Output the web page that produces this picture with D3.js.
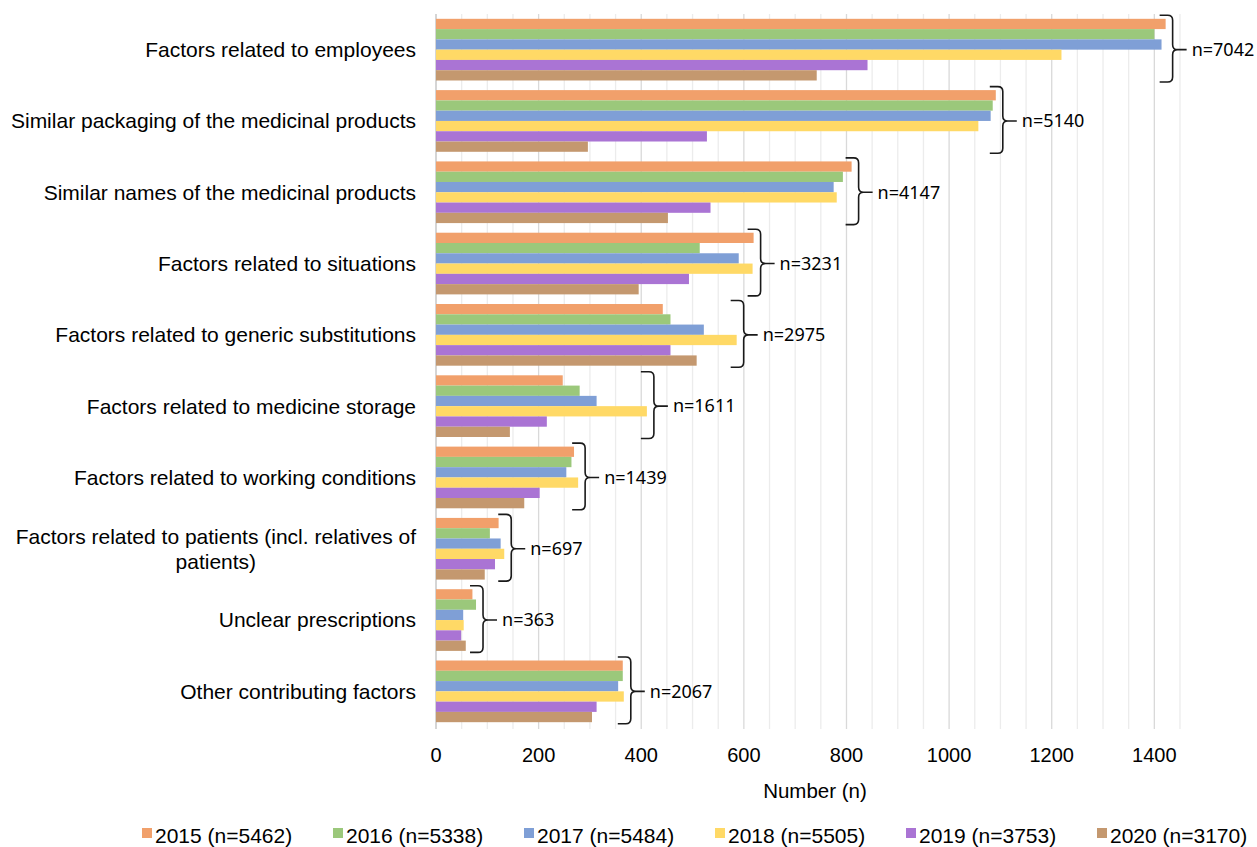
<!DOCTYPE html>
<html>
<head>
<meta charset="utf-8">
<script src="https://cdn.jsdelivr.net/npm/d3@7"></script>
<style>
  body { margin: 0; background: #fff; }
  svg text { font-family: "Liberation Sans", Arial, sans-serif; fill: #000; }
  .n-label { font-family: "Noto Sans", "Open Sans", sans-serif; }
</style>
</head>
<body>
<svg id="chart"></svg>
<script>
// categories (top to bottom)
const categories = [
    'Factors related to employees',
    'Similar packaging of the medicinal products',
    'Similar names of the medicinal products',
    'Factors related to situations',
    'Factors related to generic substitutions',
    'Factors related to medicine storage',
    'Factors related to working conditions',
    'Factors related to patients (incl. relatives of patients)',
    'Unclear prescriptions',
    'Other contributing factors'
];
const totals = [7042, 5140, 4147, 3231, 2975, 1611, 1439, 697, 363, 2067];

const seriesNames = ['2015 (n=5462)', '2016 (n=5338)', '2017 (n=5484)', '2018 (n=5505)', '2019 (n=3753)', '2020 (n=3170)'];
const seriesColors = ['#f1a06b', '#9bc87b', '#7f9fd6', '#ffd966', '#aa74d4', '#c4986f'];

const v2015 = [1422, 1091, 810, 619, 442, 247, 269, 122, 71, 364];
const v2016 = [1400, 1085, 793, 514, 457, 280, 264, 105, 78, 364];
const v2017 = [1414, 1081, 775, 590, 522, 313, 254, 126, 53, 355];
const v2018 = [1219, 1057, 781, 617, 586, 411, 277, 133, 54, 366];
const v2019 = [841, 528, 535, 493, 457, 216, 202, 115, 49, 313];
const v2020 = [742, 296, 452, 395, 508, 144, 172, 95, 58, 304];
const seriesValues = [v2015, v2016, v2017, v2018, v2019, v2020];

const xTicks = [0, 200, 400, 600, 800, 1000, 1200, 1400];

const width = 1257, height = 847;
const margin = { top: 14, right: 77, bottom: 120, left: 436 };
const innerW = width - margin.left - margin.right;
const innerH = height - margin.top - margin.bottom;

const svg = d3.select('#chart').attr('width', width).attr('height', height);
const chart = svg.append('g').attr('transform', `translate(${margin.left},${margin.top})`);

const xScale = d3.scaleLinear().domain([0, 1450]).range([0, innerW]);
const yScale = d3.scaleBand().domain(categories).range([0, innerH]).paddingInner(0.135).paddingOuter(0.0675);
const ySub = d3.scaleBand().domain(d3.range(seriesNames.length)).range([0, yScale.bandwidth()]);

// gridlines: minor every 50, major every 200
const minor = d3.range(50, 1451, 50).filter(d => d % 200 !== 0);
chart.append('g').selectAll('line').data(minor).join('line')
    .attr('x1', d => xScale(d)).attr('x2', d => xScale(d))
    .attr('y1', 0).attr('y2', innerH + 2)
    .attr('stroke', '#ececec').attr('stroke-width', 1.3);
chart.append('g').selectAll('line').data(xTicks.slice(1)).join('line')
    .attr('x1', d => xScale(d)).attr('x2', d => xScale(d))
    .attr('y1', 0).attr('y2', innerH + 2)
    .attr('stroke', '#d9d9d9').attr('stroke-width', 1.3);
chart.append('line').attr('x1', 0).attr('x2', 0).attr('y1', 0).attr('y2', innerH + 2)
    .attr('stroke', '#bfbfbf').attr('stroke-width', 1.3);

// bars
const groups = chart.append('g').selectAll('g').data(categories).join('g')
    .attr('transform', d => `translate(0,${yScale(d)})`);
groups.selectAll('rect').data((c, i) => seriesValues.map((vals, s) => ({ s, v: vals[i] }))).join('rect')
    .attr('x', 0)
    .attr('y', d => ySub(d.s))
    .attr('width', d => xScale(d.v))
    .attr('height', ySub.bandwidth())
    .attr('fill', d => seriesColors[d.s]);

// braces with totals
groups.each(function (c, i) {
    const g = d3.select(this);
    const maxV = d3.max(seriesValues, vals => vals[i]);
    const vx = xScale(maxV) + 7;
    const top = -3.5, bot = yScale.bandwidth() + 1.5, mid = yScale.bandwidth() / 2;
    const left = vx - 13, tip = vx + 14, r = 5;
    const p = `M${left},${top} L${vx - r},${top} Q${vx},${top} ${vx},${top + r} L${vx},${mid - r} Q${vx},${mid} ${vx + r},${mid} L${tip},${mid} M${vx + r},${mid} Q${vx},${mid} ${vx},${mid + r} L${vx},${bot - r} Q${vx},${bot} ${vx - r},${bot} L${left},${bot}`;
    g.append('path').attr('d', p).attr('fill', 'none').attr('stroke', '#1a1a1a').attr('stroke-width', 1.6);
    g.append('text').attr('class', 'n-label').attr('x', tip + 5).attr('y', mid).attr('dy', '0.35em')
        .style('font-size', '18px').text('n=' + totals[i]);
});

// category labels
const labelG = svg.append('g');
categories.forEach((c, i) => {
    const cy = margin.top + yScale(c) + yScale.bandwidth() / 2;
    if (c.startsWith('Factors related to patients')) {
        const lines = ['Factors related to patients (incl. relatives of', 'patients)'];
        const t = labelG.append('text').style('font-size', '21px').attr('text-anchor', 'middle');
        const tmp = labelG.append('text').style('font-size', '21px').text(lines[0]);
        const w = tmp.node().getComputedTextLength();
        tmp.remove();
        const cx = margin.left - 20 - w / 2;
        lines.forEach((ln, k) => {
            t.append('tspan').attr('x', cx).attr('y', cy + (k - 0.5) * 25).attr('dy', '0.35em').text(ln);
        });
    } else {
        labelG.append('text').attr('x', margin.left - 20).attr('y', cy).attr('dy', '0.35em')
            .attr('text-anchor', 'end').style('font-size', '21px').text(c);
    }
});

// x axis tick labels
chart.append('g').selectAll('text').data(xTicks).join('text')
    .attr('x', d => xScale(d)).attr('y', 748)
    .attr('text-anchor', 'middle').style('font-size', '20px').text(d => d);
chart.append('text').attr('x', innerW / 2 + 7).attr('y', 784)
    .attr('text-anchor', 'middle').style('font-size', '20.5px').text('Number (n)');

// legend
const legend = svg.append('g').selectAll('g').data(seriesNames).join('g')
    .attr('transform', (d, i) => `translate(${155 + i * 191},843)`);
legend.append('rect').attr('x', -13).attr('y', -15).attr('width', 10).attr('height', 10)
    .attr('fill', (d, i) => seriesColors[i]);
legend.append('text').attr('x', 0).attr('y', 0).style('font-size', '21px').text(d => d);
</script>
</body>
</html>
